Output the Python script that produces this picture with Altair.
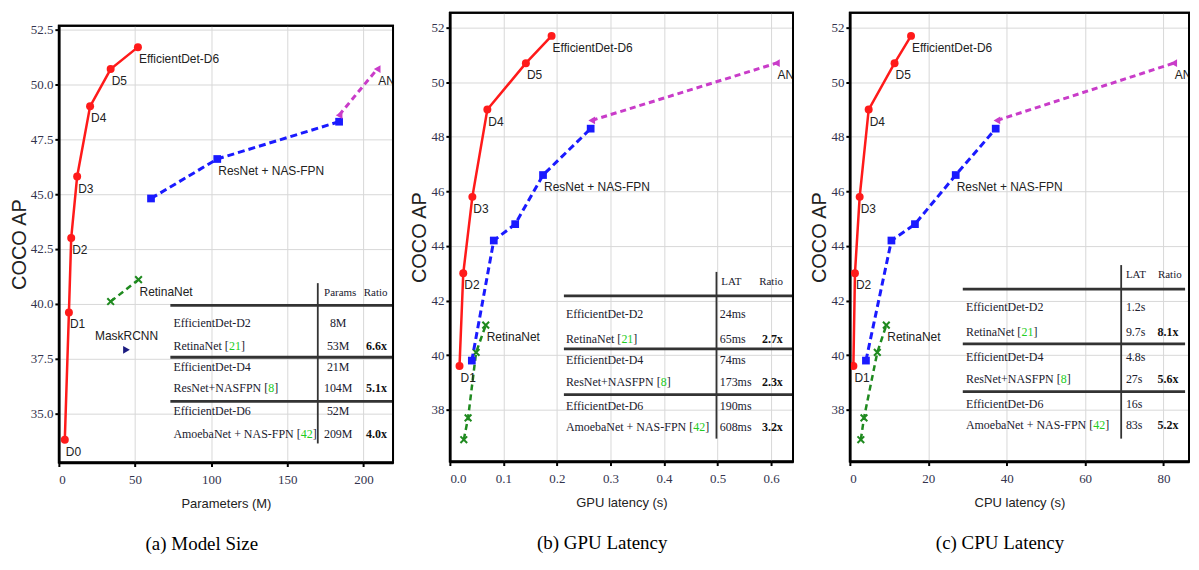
import altair as alt
import pandas as pd

# ---------------- values ----------------
# (a) model size: parameters (M) vs COCO AP
a_eff_x = [3.9, 6.6, 8.1, 12.0, 20.5, 34.0, 51.9]
a_eff_y = [33.8, 39.6, 43.0, 45.8, 49.0, 50.7, 51.7]
a_eff_lab = ["D0", "D1", "D2", "D3", "D4", "D5", "EfficientDet-D6"]
a_res_x = [60.5, 104.0, 184.0]
a_res_y = [44.8, 46.6, 48.3]
a_amb_x = [184.0, 209.0]
a_amb_y = [48.6, 50.7]
a_ret_x = [34.0, 52.3]
a_ret_y = [40.1, 41.1]
a_mask_x = [44.4]
a_mask_y = [37.9]

# (b) GPU latency (s)
b_eff_x = [0.018, 0.025, 0.042, 0.070, 0.142, 0.190]
lat_eff_y = [39.6, 43.0, 45.8, 49.0, 50.7, 51.7]
lat_eff_lab = ["D1", "D2", "D3", "D4", "D5", "EfficientDet-D6"]
b_res_x = [0.041, 0.082, 0.122, 0.174, 0.263]
lat_res_y = [39.8, 44.2, 44.8, 46.6, 48.3]
b_amb_x = [0.265, 0.610]
lat_amb_y = [48.6, 50.7]
b_ret_x = [0.026, 0.034, 0.049, 0.067]
lat_ret_y = [36.9, 37.7, 40.1, 41.1]

# (c) CPU latency (s)
c_eff_x = [0.9, 1.3, 2.5, 4.8, 11.4, 15.6]
c_res_x = [4.1, 10.6, 16.6, 27.0, 37.2]
c_amb_x = [37.5, 82.6]
c_ret_x = [2.8, 3.6, 7.0, 9.3]

# inset tables
tbl_models = ["EfficientDet-D2", "RetinaNet", "EfficientDet-D4",
              "ResNet+NASFPN", "EfficientDet-D6", "AmoebaNet + NAS-FPN"]
tbl_cites = ["", "21", "", "8", "", "42"]
tbl_params = ["8M", "53M", "21M", "104M", "52M", "209M"]
tbl_gpu = ["24ms", "65ms", "74ms", "173ms", "190ms", "608ms"]
tbl_cpu = ["1.2s", "9.7s", "4.8s", "27s", "16s", "83s"]
ratio_params = ["", "6.6x", "", "5.1x", "", "4.0x"]
ratio_gpu = ["", "2.7x", "", "2.3x", "", "3.2x"]
ratio_cpu = ["", "8.1x", "", "5.6x", "", "5.2x"]

captions = ["(a) Model Size", "(b) GPU Latency", "(c) CPU Latency"]
x_titles = ["Parameters (M)", "GPU latency (s)", "CPU latency (s)"]

# ---------------- styling ----------------
SANS = "Liberation Sans"
SERIF = "Liberation Serif"
RED, BLUE, MAGENTA, GREEN, NAVY = "#ff1a1a", "#1a1aff", "#c93cc9", "#1f8a1f", "#1c1c80"
XMARK = "M-1,-1L1,1M-1,1L1,-1"

TIMES_W = {
    "A": 722, "B": 667, "C": 667, "D": 722, "E": 611, "F": 556, "G": 722, "H": 722,
    "I": 333, "J": 389, "K": 722, "L": 611, "M": 889, "N": 722, "O": 722, "P": 556,
    "Q": 722, "R": 667, "S": 556, "T": 611, "U": 722, "V": 722, "W": 944, "X": 722,
    "Y": 722, "Z": 611, "a": 444, "b": 500, "c": 444, "d": 500, "e": 444, "f": 333,
    "g": 500, "h": 500, "i": 278, "j": 278, "k": 500, "l": 278, "m": 778, "n": 500,
    "o": 500, "p": 500, "q": 500, "r": 333, "s": 389, "t": 278, "u": 500, "v": 500,
    "w": 722, "x": 500, "y": 500, "z": 444, " ": 250, "[": 333, "]": 333, "+": 564,
    "-": 333, ".": 250,
}


def text_width(s, size):
    return sum(TIMES_W.get(ch, 500) for ch in s) * size / 1000.0


TFS = 12  # table font size
LFS = 12  # point label font size


def series(x, y, color, shape, size, dash=None, filled=True, lw=2.5):
    return dict(x=x, y=y, color=color, shape=shape, size=size, dash=dash, filled=filled, lw=lw)


def panel(p):
    xs = alt.Scale(domain=p["xdom"], nice=False, zero=False)
    ys = alt.Scale(domain=p["ydom"], nice=False, zero=False)
    xaxis = alt.Axis(values=p["xticks"], format=p["xfmt"], title=p["xtitle"])
    yaxis = alt.Axis(values=p["yticks"], format=p["yfmt"], title="COCO AP")
    X = alt.X("x:Q", scale=xs, axis=xaxis)
    Y = alt.Y("y:Q", scale=ys, axis=yaxis)
    layers = []

    # inset table
    t = p["table"]
    ppx = p["width"] / (p["xdom"][1] - p["xdom"][0])
    hl = pd.DataFrame({"x": [t["x_line"][0]] * 3, "x2": [t["x_line"][1]] * 3, "y": t["y_lines"]})
    layers.append(alt.Chart(hl).mark_rule(color="#333333", strokeWidth=2.8).encode(x=X, x2="x2:Q", y=Y))
    vl = pd.DataFrame({"x": [t["x_sep"]], "y": [t["sep_y"][0]], "y2": [t["sep_y"][1]]})
    layers.append(alt.Chart(vl).mark_rule(color="#333333", strokeWidth=1.8).encode(x=X, y=Y, y2="y2:Q"))

    names, cites, closes = [], [], []
    for i, m in enumerate(tbl_models):
        yv = t["y_rows"][i]
        if tbl_cites[i]:
            base = m + " ["
            names.append({"x": t["x_text"], "y": yv, "text": base})
            w1 = text_width(base, TFS)
            cites.append({"x": t["x_text"] + w1 / ppx, "y": yv, "text": tbl_cites[i]})
            w2 = text_width(tbl_cites[i], TFS)
            closes.append({"x": t["x_text"] + (w1 + w2) / ppx, "y": yv, "text": "]"})
        else:
            names.append({"x": t["x_text"], "y": yv, "text": m})
    txt = dict(font=SERIF, fontSize=TFS, baseline="middle", align="left")
    layers.append(alt.Chart(pd.DataFrame(names + closes)).mark_text(color="#20202e", **txt)
                  .encode(x=X, y=Y, text="text:N"))
    layers.append(alt.Chart(pd.DataFrame(cites)).mark_text(color="#22cc22", **txt)
                  .encode(x=X, y=Y, text="text:N"))
    vals = pd.DataFrame({"x": [t["x_val"]] * 6, "y": t["y_rows"], "text": t["values"]})
    layers.append(alt.Chart(vals).mark_text(color="#20202e", font=SERIF, fontSize=TFS,
                                            baseline="middle", align=t["val_align"])
                  .encode(x=X, y=Y, text="text:N"))
    rat = pd.DataFrame({"x": [t["x_ratio"]] * 6, "y": t["y_rows"], "text": t["ratios"]})
    rat = rat[rat["text"] != ""]
    layers.append(alt.Chart(rat).mark_text(color="#111111", font=SERIF, fontSize=TFS, fontWeight="bold",
                                           baseline="middle", align="right")
                  .encode(x=X, y=Y, text="text:N"))
    for (htxt, hx, hal) in t["hdr"]:
        hd = pd.DataFrame({"x": [hx], "y": [t["y_hdr"]], "text": [htxt]})
        layers.append(alt.Chart(hd).mark_text(color="#20202e", font=SERIF, fontSize=11,
                                              baseline="middle", align=hal)
                      .encode(x=X, y=Y, text="text:N"))

    # data series
    for s in p["series"]:
        df = pd.DataFrame({"x": s["x"], "y": s["y"]})
        if len(df) > 1:
            lk = dict(color=s["color"], strokeWidth=s["lw"])
            if s["dash"]:
                lk["strokeDash"] = s["dash"]
            layers.append(alt.Chart(df).mark_line(**lk).encode(x=X, y=Y))
        layers.append(alt.Chart(df).mark_point(shape=s["shape"], filled=s["filled"], size=s["size"],
                                               color=s["color"], opacity=1, strokeWidth=2)
                      .encode(x=X, y=Y))

    # point labels
    lab = pd.DataFrame(p["labels"], columns=["x", "y", "text"])
    layers.append(alt.Chart(lab).mark_text(font=SANS, fontSize=LFS, color="#222222", align="left",
                                           baseline="top", dx=1, dy=7, clip=True)
                  .encode(x=X, y=Y, text="text:N"))
    if p.get("labels_above"):
        la = pd.DataFrame(p["labels_above"], columns=["x", "y", "text"])
        layers.append(alt.Chart(la).mark_text(font=SANS, fontSize=LFS, color="#222222", align="center",
                                              baseline="bottom", dy=-7)
                      .encode(x=X, y=Y, text="text:N"))

    # plot frame
    frame = alt.Chart(pd.DataFrame({"f": [0]})).mark_rect(
        fillOpacity=0, stroke="black", strokeWidth=2
    ).encode(x=alt.value(0), x2=alt.value(p["width"]), y=alt.value(0), y2=alt.value(p["height"]))
    layers.append(frame)

    return alt.layer(*layers).properties(
        width=p["width"], height=p["height"],
        title=alt.TitleParams(p["caption"], orient="bottom", frame="bounds", anchor="middle",
                              offset=25, font=SERIF, fontSize=19, fontWeight="normal", color="black"),
    )


def eff_labels(xv, yv, labs):
    return [(x, y, l) for x, y, l in zip(xv, yv, labs)]


pa = dict(
    xdom=[0, 219.4], ydom=[32.76, 52.68], width=335, height=438,
    xticks=[0, 50, 100, 150, 200], xfmt="d",
    yticks=[35, 37.5, 40, 42.5, 45, 47.5, 50, 52.5], yfmt=".1f",
    xtitle=x_titles[0], caption=captions[0],
    series=[
        series(a_ret_x, a_ret_y, GREEN, XMARK, 45, dash=[6, 4], filled=False),
        series(a_res_x, a_res_y, BLUE, "square", 60, dash=[7, 4], lw=3),
        series(a_amb_x, a_amb_y, MAGENTA, "triangle-left", 60, dash=[6, 4], lw=3),
        series(a_eff_x, a_eff_y, RED, "circle", 64),
        series(a_mask_x, a_mask_y, NAVY, "triangle-right", 60),
    ],
    labels=eff_labels(a_eff_x, a_eff_y, a_eff_lab) + [
        (a_res_x[1], a_res_y[1], "ResNet + NAS-FPN"),
        (a_amb_x[1], a_amb_y[1], "AN"),
        (a_ret_x[1], a_ret_y[1], "RetinaNet"),
    ],
    labels_above=[(a_mask_x[0], a_mask_y[0], "MaskRCNN")],
    table=dict(x_text=75.2, x_line=(73.2, 219.4), x_sep=170.0, sep_y=(40.94, 33.63),
               y_lines=[39.93, 37.56, 35.55], y_hdr=40.5,
               y_rows=[39.1, 38.06, 37.1, 36.14, 35.1, 34.04],
               x_val=183.4, val_align="center", values=tbl_params,
               x_ratio=215.4, ratios=ratio_params,
               hdr=[("Params", 184.7, "center"), ("Ratio", 208.0, "center")]),
)

pb = dict(
    xdom=[0, 0.641], ydom=[36.1, 52.55], width=344, height=450,
    xticks=[0, 0.1, 0.2, 0.3, 0.4, 0.5, 0.6], xfmt=".1f",
    yticks=[38, 40, 42, 44, 46, 48, 50, 52], yfmt="d",
    xtitle=x_titles[1], caption=captions[1],
    series=[
        series(b_ret_x, lat_ret_y, GREEN, XMARK, 45, dash=[6, 4], filled=False),
        series(b_res_x, lat_res_y, BLUE, "square", 60, dash=[7, 4], lw=3),
        series(b_amb_x, lat_amb_y, MAGENTA, "triangle-left", 60, dash=[6, 4], lw=3),
        series(b_eff_x, lat_eff_y, RED, "circle", 64),
    ],
    labels=eff_labels(b_eff_x, lat_eff_y, lat_eff_lab) + [
        (b_res_x[3], lat_res_y[3], "ResNet + NAS-FPN"),
        (b_amb_x[1], lat_amb_y[1], "AN"),
        (b_ret_x[3], lat_ret_y[3], "RetinaNet"),
    ],
    table=dict(x_text=0.2167, x_line=(0.213, 0.641), x_sep=0.498, sep_y=(43.05, 36.94),
               y_lines=[42.17, 40.23, 38.55], y_hdr=42.68,
               y_rows=[41.51, 40.60, 39.83, 39.02, 38.15, 37.38],
               x_val=0.504, val_align="left", values=tbl_gpu,
               x_ratio=0.622, ratios=ratio_gpu,
               hdr=[("LAT", 0.507, "left"), ("Ratio", 0.600, "center")]),
)

pc = dict(
    xdom=[0, 86.5], ydom=[36.1, 52.55], width=340, height=450,
    xticks=[0, 20, 40, 60, 80], xfmt="d",
    yticks=[38, 40, 42, 44, 46, 48, 50, 52], yfmt="d",
    xtitle=x_titles[2], caption=captions[2],
    series=[
        series(c_ret_x, lat_ret_y, GREEN, XMARK, 45, dash=[6, 4], filled=False),
        series(c_res_x, lat_res_y, BLUE, "square", 60, dash=[7, 4], lw=3),
        series(c_amb_x, lat_amb_y, MAGENTA, "triangle-left", 60, dash=[6, 4], lw=3),
        series(c_eff_x, lat_eff_y, RED, "circle", 64),
    ],
    labels=eff_labels(c_eff_x, lat_eff_y, lat_eff_lab) + [
        (c_res_x[3], lat_res_y[3], "ResNet + NAS-FPN"),
        (c_amb_x[1], lat_amb_y[1], "AN"),
        (c_ret_x[3], lat_ret_y[3], "RetinaNet"),
    ],
    table=dict(x_text=29.6, x_line=(28.8, 85.5), x_sep=69.2, sep_y=(43.3, 36.94),
               y_lines=[42.42, 40.41, 38.66], y_hdr=42.94,
               y_rows=[41.77, 40.85, 39.94, 39.13, 38.22, 37.45],
               x_val=70.4, val_align="left", values=tbl_cpu,
               x_ratio=83.8, ratios=ratio_cpu,
               hdr=[("LAT", 70.4, "left"), ("Ratio", 81.6, "center")]),
)

spacer = alt.Chart(pd.DataFrame({"x": [0]})).mark_point(opacity=0, size=4).encode(
    x=alt.value(4), y=alt.value(4)
).properties(width=335, height=8, view=alt.ViewBackground(stroke="transparent"))

col_a = alt.vconcat(spacer, panel(pa), spacing=0)

chart = alt.hconcat(col_a, panel(pb), panel(pc), spacing=13).properties(
    padding={"left": 0, "top": 2, "right": 0, "bottom": 0}
).configure_view(stroke="black", strokeWidth=2).configure_axis(
    labelFont=SERIF, labelFontSize=13, labelColor="#33334d",
    titleFontWeight="normal", titleColor="#222222", titleFont=SANS,
    gridColor="#d8d8d8", gridWidth=1, domainColor="black", domainWidth=2.5,
    tickColor="black", tickWidth=2, tickSize=4,
).configure_axisX(labelPadding=7, titleFontSize=13, titlePadding=11) \
 .configure_axisY(labelPadding=2, titleFontSize=20, titlePadding=1)

chart.save("out.html", embed_options={"renderer": "svg", "actions": False})
